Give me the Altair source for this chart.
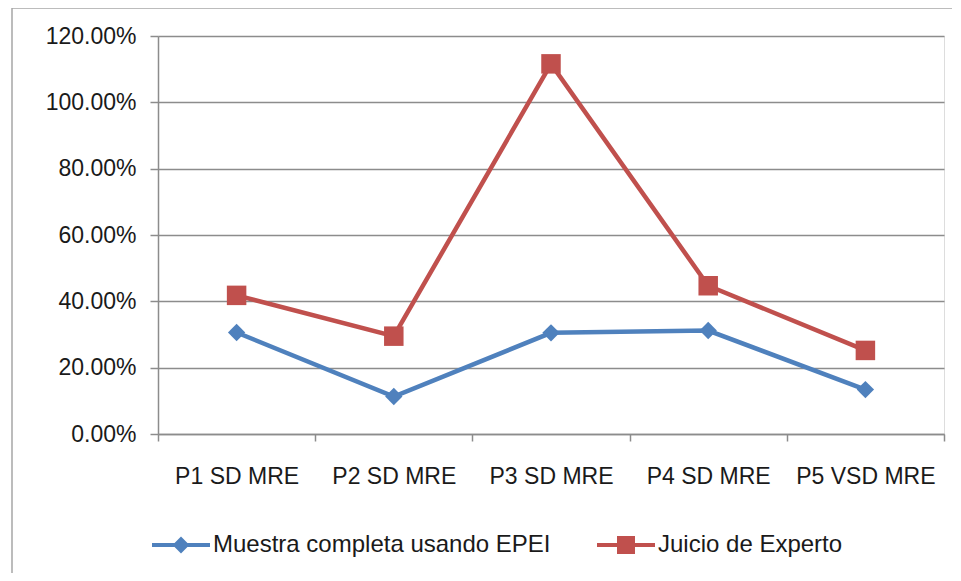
import altair as alt
import pandas as pd

categories = ["P1 SD MRE", "P2 SD MRE", "P3 SD MRE", "P4 SD MRE", "P5 VSD MRE"]
series_names = ["Muestra completa usando EPEI", "Juicio de Experto"]
muestra = [0.306, 0.113, 0.305, 0.312, 0.134]
juicio = [0.418, 0.295, 1.116, 0.447, 0.252]

rows = []
for c, v in zip(categories, muestra):
    rows.append({"cat": c, "serie": series_names[0], "val": v})
for c, v in zip(categories, juicio):
    rows.append({"cat": c, "serie": series_names[1], "val": v})
df = pd.DataFrame(rows)

FONT = "Liberation Sans"
GRID = "#8c8c8c"
colors = ["#4F81BD", "#C0504D"]

diamond = "M0,-1L1,0L0,1L-1,0Z"
square = "M-1,-1H1V1H-1Z"
leg_diamond = "M-1,-0.07H1V0.07H-1Z M0,-0.29L0.29,0L0,0.29L-0.29,0Z"
leg_square = "M-1,-0.07H1V0.07H-1Z M-0.31,-0.31H0.31V0.31H-0.31Z"

x_enc = alt.X("cat:N", sort=categories,
              scale=alt.Scale(type="band", paddingInner=0, paddingOuter=0),
              axis=alt.Axis(title=None, tickBand="extent", grid=False, labelAngle=0,
                            labelFont=FONT, labelFontSize=23, labelColor="#1a1a1a",
                            labelPadding=24, tickSize=7, tickColor=GRID, domainColor=GRID,
                            domainWidth=1.5, tickWidth=1.5))
y_enc = alt.Y("val:Q", scale=alt.Scale(domain=[0, 1.2], nice=False),
              axis=alt.Axis(title=None, format=".2%", values=[0, 0.2, 0.4, 0.6, 0.8, 1.0, 1.2],
                            labelFont=FONT, labelFontSize=23, labelColor="#1a1a1a",
                            labelPadding=14, tickSize=8, tickColor=GRID, domainColor=GRID,
                            domainWidth=1.5, tickWidth=1.5, gridColor=GRID, gridWidth=1.5))

legend_props = dict(
    title=None, orient="none", direction="horizontal", legendX=-6, legendY=480,
    labelFont=FONT, labelFontSize=24, labelColor="#1a1a1a", labelOffset=3,
    labelLimit=0, columnPadding=46, padding=0, symbolSize=3364, symbolStrokeWidth=0,
    symbolOpacity=1,
)

lines = alt.Chart(df).mark_line(strokeWidth=4.5).encode(
    x=x_enc, y=y_enc,
    stroke=alt.Stroke("serie:N", scale=alt.Scale(domain=series_names, range=colors),
                      legend=alt.Legend(**legend_props)),
)

marker_layers = []
for name, col, shp, sz in zip(series_names, colors, [diamond, square], [300, 380]):
    marker_layers.append(
        alt.Chart(df).transform_filter(alt.datum.serie == name)
        .mark_point(filled=True, opacity=1, color=col, shape=shp, size=sz)
        .encode(x=x_enc, y=y_enc)
    )

legend_layer = alt.Chart(df).mark_point(filled=True, opacity=0).encode(
    x=x_enc, y=y_enc,
    color=alt.Color("serie:N", scale=alt.Scale(domain=series_names, range=colors),
                    legend=alt.Legend(**legend_props)),
    shape=alt.Shape("serie:N", scale=alt.Scale(domain=series_names, range=[leg_diamond, leg_square]),
                    legend=alt.Legend(**legend_props)),
)

frame_v = alt.Chart(alt.Data(values=[{}])).mark_rule(color="#a6a6a6", strokeWidth=1.5).encode(
    x=alt.value(-146), y=alt.value(-28), y2=alt.value(600))
frame_h = alt.Chart(alt.Data(values=[{}])).mark_rule(color="#a6a6a6", strokeWidth=1.5).encode(
    x=alt.value(-146), x2=alt.value(900), y=alt.value(-28))

chart = alt.layer(frame_v, frame_h, lines, *marker_layers, legend_layer).properties(
    width=786, height=398,
    autosize=alt.AutoSizeParams(type="none"),
    padding={"left": 150, "top": 28, "right": 8, "bottom": 139},
).configure_view(stroke=None).configure(background="white")

chart.save("out.html", embed_options={"renderer": "svg", "actions": False})
